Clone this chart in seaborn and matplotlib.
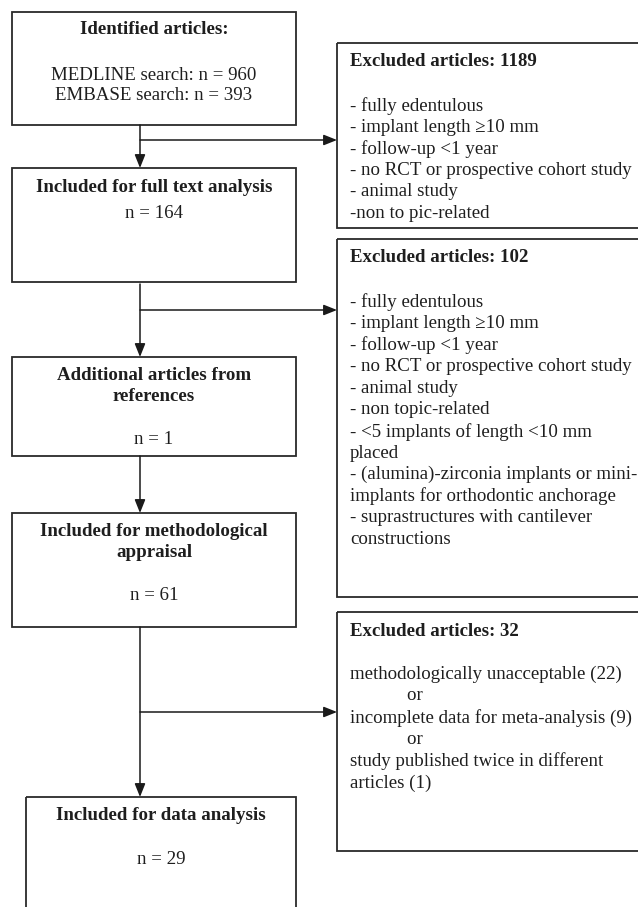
import matplotlib
matplotlib.use("Agg")
import matplotlib.pyplot as plt
import seaborn as sns
from matplotlib.patches import Rectangle, FancyArrowPatch

sns.set_theme(style="white")
plt.rcParams['font.family'] = ['Liberation Serif', 'DejaVu Serif']

# ---- data (flow counts and texts) ----
source_labels = ["MEDLINE search", "EMBASE search"]
source_counts = [960, 393]
stage_titles = ["Identified articles:",
                "Included for full text analysis",
                "Additional articles from\nreferences",
                "Included for methodological\nappraisal",
                "Included for data analysis"]
stage_counts = [None, 164, 1, 61, 29]
excluded_counts = [1189, 102, 32]
excluded_reasons_1 = ["- fully edentulous", "- implant length \u226510 mm", "- follow-up <1 year",
                      "- no RCT or prospective cohort study", "- animal study", "-non to pic-related"]
excluded_reasons_2 = ["- fully edentulous", "- implant length \u226510 mm", "- follow-up <1 year",
                      "- no RCT or prospective cohort study", "- animal study", "- non topic-related",
                      "- <5 implants of length <10 mm", "placed",
                      "- (alumina)-zirconia implants or mini-", "implants for orthodontic anchorage",
                      "- suprastructures with cantilever", "constructions"]
excluded_reasons_3 = ["methodologically unacceptable (22)", "            or",
                      "incomplete data for meta-analysis (9)", "            or",
                      "study published twice in different", "articles (1)"]

W, H = 638, 907
fig = plt.figure(figsize=(W / 100, H / 100), dpi=100)
ax = fig.add_axes([0, 0, 1, 1])
ax.set_xlim(0, W)
ax.set_ylim(H, 0)
ax.axis("off")

EC = "#2a2a2a"
LW = 1.3
FS = 13.6
TC = "#1e1e1e"

def box(x0, y0, x1, y1):
    ax.add_patch(Rectangle((x0, y0), x1 - x0, y1 - y0, fill=False, ec=EC, lw=LW))

def arrow(x0, y0, x1, y1):
    ax.add_patch(FancyArrowPatch((x0, y0), (x1, y1), arrowstyle="-|>,head_length=0.8,head_width=0.32",
                                 mutation_scale=10, color="#1a1a1a", lw=1.1, shrinkA=0, shrinkB=0))

# left boxes
left_boxes = [(12, 12, 296, 125), (12, 168, 296, 282), (12, 357, 296, 456),
              (12, 513, 296, 627), (26, 797, 296, 940)]
for b in left_boxes:
    box(*b)

# right boxes
right_boxes = [(337, 43, 660, 228), (337, 239, 660, 597), (337, 612, 660, 851)]
for b in right_boxes:
    box(*b)

# vertical arrows
arrow(140, 125, 140, 168)
arrow(140, 284, 140, 357)
arrow(140, 456, 140, 513)
arrow(140, 627, 140, 797)
# branches
arrow(140, 140, 337, 140)
arrow(140, 310, 337, 310)
arrow(140, 712, 337, 712)

cx = 154
kw = dict(ha="center", va="center", fontsize=FS, color=TC)
# box 1
ax.text(cx, 30, stage_titles[0], fontweight="bold", **kw)
ax.text(cx, 75, f"{source_labels[0]}: n = {source_counts[0]}", **kw)
ax.text(cx, 95, f"{source_labels[1]}: n = {source_counts[1]}", **kw)
# box 2
ax.text(cx, 187, stage_titles[1], fontweight="bold", **kw)
ax.text(cx, 213, f"n = {stage_counts[1]}", **kw)
# box 3
ax.text(cx, 386, stage_titles[2], fontweight="bold", linespacing=1.32, **kw)
ax.text(cx, 440, f"n = {stage_counts[2]}", **kw)
# box 4
ax.text(cx, 542, stage_titles[3], fontweight="bold", linespacing=1.32, **kw)
ax.text(cx, 596, f"n = {stage_counts[3]}", **kw)
# box 5
cx5 = 161
ax.text(cx5, 815, stage_titles[4], fontweight="bold", **kw)
ax.text(cx5, 859, f"n = {stage_counts[4]}", **kw)

# right texts
tx = 350
lkw = dict(ha="left", va="center", fontsize=FS, color=TC)
def list_text(y0, lines, step):
    for i, s in enumerate(lines):
        ax.text(tx, y0 + i * step, s, **lkw)

ax.text(tx, 62, f"Excluded articles: {excluded_counts[0]}", fontweight="bold", **lkw)
list_text(106, excluded_reasons_1, 21.4)
ax.text(tx, 258, f"Excluded articles: {excluded_counts[1]}", fontweight="bold", **lkw)
list_text(302, excluded_reasons_2, 21.6)
ax.text(tx, 631, f"Excluded articles: {excluded_counts[2]}", fontweight="bold", **lkw)
list_text(674, excluded_reasons_3, 21.8)

fig.savefig("out.png", dpi=100, facecolor="white")
